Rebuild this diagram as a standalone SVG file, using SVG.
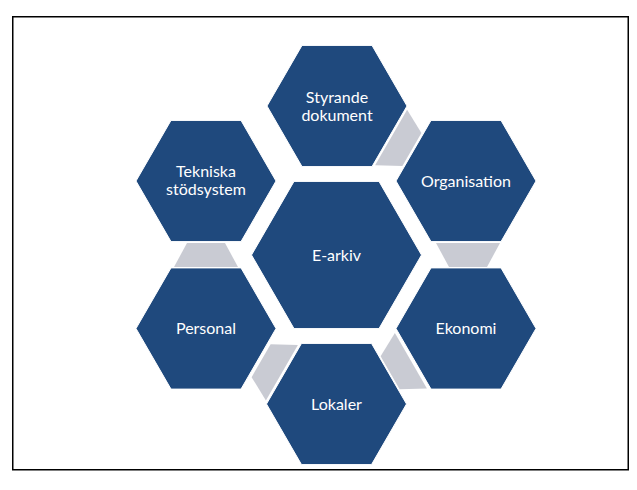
<svg xmlns="http://www.w3.org/2000/svg" width="637" height="490" viewBox="0 0 637 490">
  <defs>
    <style>
      .hex { fill: #1F497D; stroke: #FFFFFF; stroke-width: 1; }
      .conn { fill: #C9CBD3; }
      .lbl { font-family: Lato, "Liberation Sans", sans-serif; font-size: 16px; fill: #FFFFFF; text-anchor: middle; }
      .frame { fill: #FFFFFF; stroke: #000000; stroke-width: 1.5; }
    </style>
    <polygon id="hexS" points="70,0 35,60.6 -35,60.6 -70,0 -35,-60.6 35,-60.6"/>
    <polygon id="hexL" points="85,0 42.5,73.6 -42.5,73.6 -85,0 -42.5,-73.6 42.5,-73.6"/>
    <polygon id="trap" points="-32,-12 32,-12 19,12 -19,12"/>
  </defs>
  <rect x="0" y="0" width="637" height="490" fill="#FFFFFF"/>
  <rect class="frame" x="12.75" y="16.75" width="615.5" height="453"/>

  <g id="connectors">
    <use href="#trap" class="conn" transform="translate(401.5,143.5) rotate(-60)"/>
    <use href="#trap" class="conn" transform="translate(468,255)"/>
    <use href="#trap" class="conn" transform="translate(400.5,366.75) rotate(60)"/>
    <use href="#trap" class="conn" transform="translate(271.5,366.75) rotate(120)"/>
    <use href="#trap" class="conn" transform="translate(206,255) rotate(180)"/>
  </g>

  <g id="node-earkiv">
    <use href="#hexL" class="hex" transform="translate(336.5,255)"/>
    <text class="lbl" x="336.5" y="260.5">E-arkiv</text>
  </g>
  <g id="node-styrande">
    <use href="#hexS" class="hex" transform="translate(337,106)"/>
    <text class="lbl" x="337" y="102.5">Styrande</text>
    <text class="lbl" x="337" y="121">dokument</text>
  </g>
  <g id="node-organisation">
    <use href="#hexS" class="hex" transform="translate(466,181)"/>
    <text class="lbl" x="466" y="186.5">Organisation</text>
  </g>
  <g id="node-ekonomi">
    <use href="#hexS" class="hex" transform="translate(466,328.5)"/>
    <text class="lbl" x="466" y="334">Ekonomi</text>
  </g>
  <g id="node-lokaler">
    <use href="#hexS" class="hex" transform="translate(336.5,404)"/>
    <text class="lbl" x="336.5" y="409.5">Lokaler</text>
  </g>
  <g id="node-personal">
    <use href="#hexS" class="hex" transform="translate(206,328.5)"/>
    <text class="lbl" x="206" y="334">Personal</text>
  </g>
  <g id="node-tekniska">
    <use href="#hexS" class="hex" transform="translate(206,181)"/>
    <text class="lbl" x="206" y="176.5">Tekniska</text>
    <text class="lbl" x="206" y="195">stödsystem</text>
  </g>
</svg>
